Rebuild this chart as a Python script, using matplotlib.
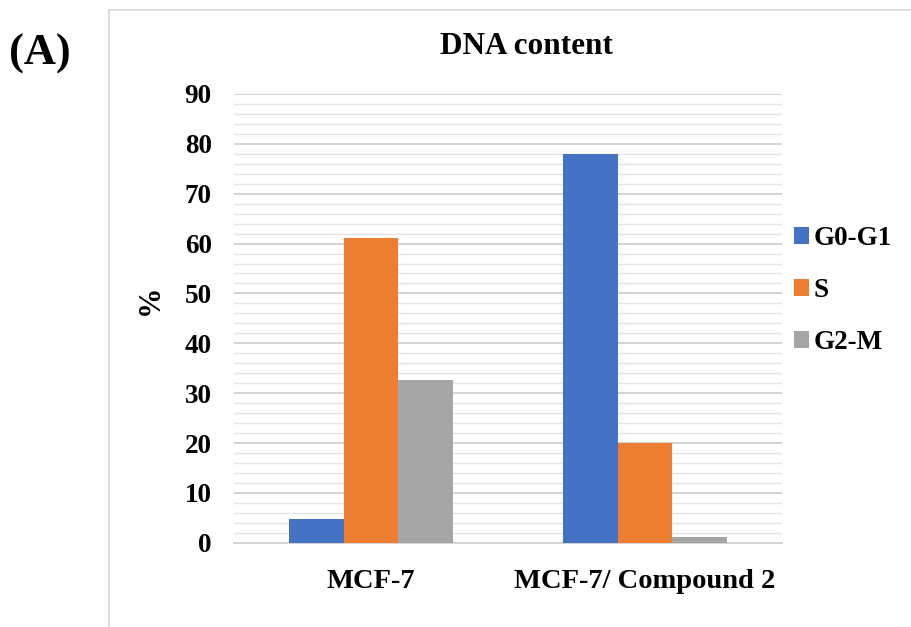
import numpy as np
import matplotlib
matplotlib.use("Agg")
import matplotlib.pyplot as plt
from matplotlib.lines import Line2D

# data
categories = ["MCF-7", "MCF-7/ Compound 2"]
phases = ["G0-G1", "S", "G2-M"]
g0_g1 = [4.8, 78.0]
s_phase = [61.2, 20.0]
g2_m = [32.6, 1.2]
colors = ["#4472C4", "#ED7D31", "#A5A5A5"]

plt.rcParams['font.family'] = ['Liberation Serif', 'DejaVu Serif']
plt.rcParams['font.weight'] = 'bold'

fig = plt.figure(figsize=(9.12, 6.27), dpi=100)
ax = fig.add_axes([0.2566, 0.1344, 0.6009, 0.7157])

x = np.arange(len(categories))
w = 0.2
series = [g0_g1, s_phase, g2_m]
for i, vals in enumerate(series):
    ax.bar(x + (i - 1) * w, vals, width=w, color=colors[i], label=phases[i], zorder=3)

ax.set_xlim(-0.5, 1.5)
ax.set_ylim(0, 90)
ax.set_yticks(np.arange(0, 91, 10))
ax.set_yticks(np.arange(0, 91, 2), minor=True)
ax.set_xticks(x)
ax.set_xticklabels(categories, fontsize=20.5, fontweight='bold')
ax.tick_params(axis='y', labelsize=19.5, length=0, pad=16)
ax.tick_params(axis='x', length=0, pad=19)
ax.tick_params(which='minor', length=0)
for lbl in ax.get_yticklabels():
    lbl.set_fontweight('bold')

ax.grid(axis='y', which='major', color='#d0d0d0', linewidth=1.3, zorder=0)
ax.grid(axis='y', which='minor', color='#e4e4e4', linewidth=1.0, zorder=0)
for sp in ['top', 'right', 'left']:
    ax.spines[sp].set_visible(False)
ax.spines['bottom'].set_color('#d0d0d0')
ax.spines['bottom'].set_linewidth(1.3)

# y label "%"
fig.text(150 / 912, 1 - 300 / 627, '%', ha='center', va='center', rotation=90,
         fontsize=22, fontweight='bold')

fig.text(526 / 912, 1 - 46 / 627, 'DNA content', ha='center', va='center',
         fontsize=22.5, fontweight='bold')
fig.text(9 / 912, 1 - 54 / 627, '(A)', ha='left', va='center',
         fontsize=32, fontweight='bold')

# frame of the original chart area
fig.add_artist(Line2D([109 / 912, 109 / 912], [0, 1 - 10 / 627],
                      transform=fig.transFigure, color='#d9d9d9', lw=1.3))
fig.add_artist(Line2D([109 / 912, 1], [1 - 10 / 627, 1 - 10 / 627],
                      transform=fig.transFigure, color='#d9d9d9', lw=1.3))

leg = ax.legend(loc='center left', bbox_to_anchor=(0.978, 0.562), frameon=False,
                prop={'size': 19.5, 'weight': 'bold'}, handlelength=0.55,
                handleheight=0.55, handletextpad=0.15, labelspacing=1.0)

fig.savefig('out.png', dpi=100, facecolor='white')
